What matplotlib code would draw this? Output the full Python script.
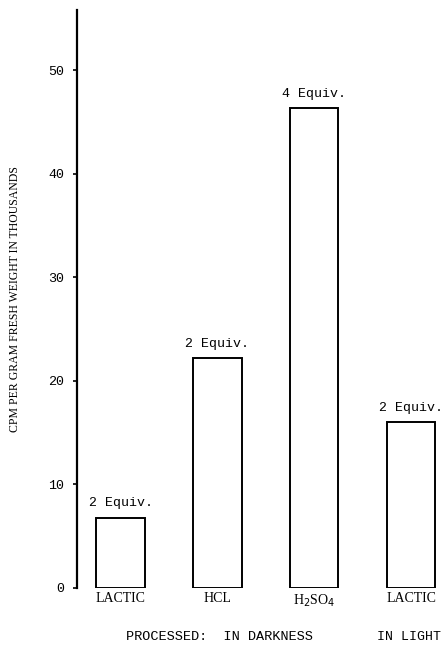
import numpy as np
import matplotlib.pyplot as plt

# bar data
categories = ["LACTIC", "HCL", r"H$_2$SO$_4$", "LACTIC"]
values = [6.8, 22.2, 46.3, 16.0]
equiv = ["2 Equiv.", "2 Equiv.", "4 Equiv.", "2 Equiv."]
yticks = [0, 10, 20, 30, 40, 50]

mono = "Liberation Mono"
serif = "Liberation Serif"

fig = plt.figure(figsize=(4.45, 6.55), dpi=100)
ax = fig.add_axes([77 / 445, 67 / 655, 368 / 445, 578 / 655])

x = np.arange(len(values))
bars = ax.bar(x, values, width=0.5, color="white", edgecolor="black", linewidth=1.4)

for xi, v, lab in zip(x, values, equiv):
    ax.annotate(lab, (xi, v), xytext=(0, 6), textcoords="offset points",
                ha="center", va="bottom", fontsize=9.5, family=mono)

ax.set_xticks(x)
ax.set_xticklabels(categories, family=serif, fontsize=10)
ax.tick_params(axis="x", length=0, pad=3)

ax.set_yticks(yticks)
ax.set_yticklabels([str(t) for t in yticks], family=mono, fontsize=9.6)
ax.tick_params(axis="y", length=3, width=1.2, pad=6)

ax.set_xlim(-0.45, 3.35)
ax.set_ylim(0, 55.8)

for s in ["top", "right", "bottom"]:
    ax.spines[s].set_visible(False)
ax.spines["left"].set_linewidth(1.6)

ax.set_ylabel("CPM PER GRAM FRESH WEIGHT IN THOUSANDS", family=serif, fontsize=8.5, labelpad=20)

fig.text(219 / 445, 1 - 637 / 655, "PROCESSED:  IN DARKNESS", family=mono, fontsize=9.7,
         ha="center", va="center")
fig.text(441 / 445, 1 - 637 / 655, "IN LIGHT", family=mono, fontsize=9.5,
         ha="right", va="center")

fig.savefig("out.png", dpi=100)
